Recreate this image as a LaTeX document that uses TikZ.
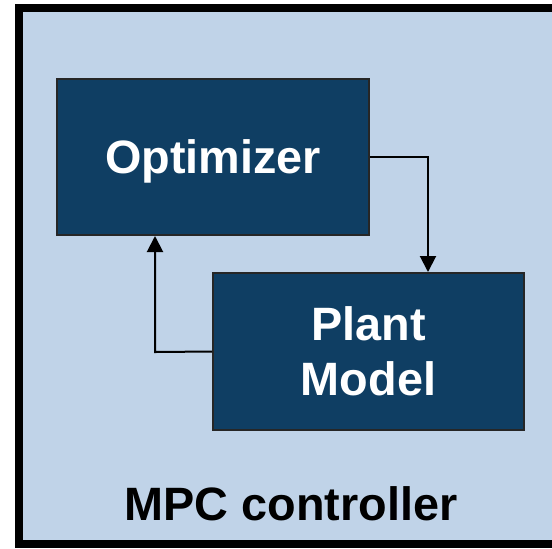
\documentclass[tikz,border=0pt]{standalone}
\usepackage{fontspec}
\setmainfont{Liberation Sans}
\usetikzlibrary{arrows.meta, positioning}

\definecolor{mpcbg}{RGB}{192,211,232}
\definecolor{blockblue}{RGB}{15,62,99}

\begin{document}
\begin{tikzpicture}[
                x=0.5pt, y=-0.5pt,
                label font/.style={font=\fontsize{23.4}{27.5}\selectfont\bfseries},
                block/.style={draw=black!85, line width=1pt, fill=blockblue, text=white,
                    label font, align=center, inner sep=0pt, text depth=0pt},
                flow/.style={line width=1pt, -{Triangle[length=8pt, width=8pt]}}
            ]
            \useasboundingbox (0,0) rectangle (552,548);
            \draw[line width=4pt, fill=mpcbg] (19,8) rectangle (580,544);
            \node[label font, text depth=0pt] (mpc) at (291,504) {MPC controller};

            \node[block, minimum width=156pt, minimum height=78pt] (opt) at (213,157) {Optimizer};
            \node[block, minimum width=155.5pt, minimum height=78.5pt] (plant) at (368.5,351.5) {Plant\\Model};

            \coordinate (down) at (428,157);
            \coordinate (up) at (155,352);
            \draw[flow] (opt.east) -- (down) -- (down |- plant.north);
            \draw[flow] (plant.west) -- (up) -- (up |- opt.south);
            \end{tikzpicture}
\end{document}
